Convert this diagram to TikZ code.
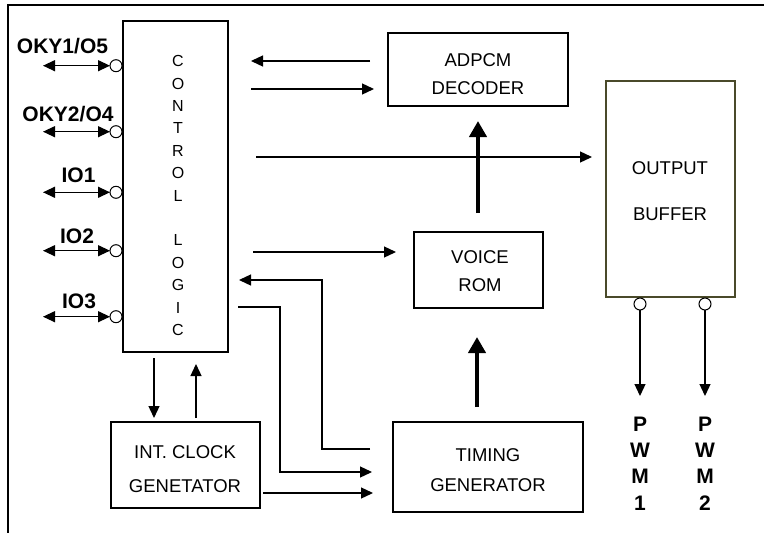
\documentclass[tikz,border=0pt]{standalone}
\usepackage{fontspec}
\setmainfont{Liberation Sans}
\usetikzlibrary{arrows.meta}
\definecolor{obcol}{HTML}{4A4A2A}
\begin{document}
\begin{tikzpicture}[x=1pt,y=-1pt,
 box/.style={draw, line width=1.2pt, inner sep=0pt, outer sep=0pt},
 reg/.style={inner sep=0pt, font=\fontsize{18.5}{20}\selectfont, text height=13.2pt, text depth=0pt},
 bld/.style={inner sep=0pt, font=\fontsize{21}{23}\selectfont\bfseries, text height=15pt, text depth=0pt},
 ltr/.style={inner sep=0pt, font=\fontsize{16}{18}\selectfont, text height=11.5pt, text depth=0pt},
 thinarr/.style={line width=1.3pt, -{Triangle[length=12pt,width=11pt]}},
 dblarr/.style={line width=1.3pt, {Triangle[length=12pt,width=11pt]}-{Triangle[length=12pt,width=11pt]}},
 thickarr/.style={line width=4.5pt, -{Triangle[length=16pt,width=17pt]}},
 pin/.style={circle, draw, line width=1pt, fill=white, minimum size=12pt, inner sep=0pt, outer sep=0pt}]
\useasboundingbox (0,0) rectangle (764,533);
% frame
\draw[line width=2pt] (7.8,533) -- (7.8,5) -- (764,5);
% boxes
\node[box, minimum width=105pt, minimum height=331pt] (cl) at (175.5,186.5) {};
\node[box, minimum width=180pt, minimum height=73pt] (adpcm) at (478,69.5) {};
\node[box, minimum width=129pt, minimum height=76pt] (rom) at (478.5,270) {};
\node[box, minimum width=190pt, minimum height=90pt] (tg) at (488,467) {};
\node[box, minimum width=149pt, minimum height=86pt] (clk) at (185.5,465) {};
\node[box, draw=obcol, minimum width=129pt, minimum height=216pt] (ob) at (670.5,189) {};
% box texts
\node[reg] (t1) at (478,60) {ADPCM};
\node[reg] (t2) at (478,88) {DECODER};
\node[reg] (t3) at (480,257) {VOICE};
\node[reg] (t4) at (480,285) {ROM};
\node[reg] (t5) at (488,455) {TIMING};
\node[reg] (t6) at (488,485) {GENERATOR};
\node[reg] (t7) at (185,452) {INT. CLOCK};
\node[reg] (t8) at (185,486) {GENETATOR};
\node[reg] (t9) at (670,168) {OUTPUT};
\node[reg] (t10) at (670,214) {BUFFER};
\foreach \l/\yy [count=\i] in {C/0,O/1,N/2,T/3,R/4,O/5,L/6,L/8,O/9,G/10,I/11,C/12}
  \node[ltr] (cl\i) at (178,{61+22.4*\yy}) {\l};
% pins on control logic
\foreach \nm/\yy in {p1/65.7,p2/131.7,p3/192.3,p4/250.7,p5/316.7}{
  \node[pin] (\nm) at (116,\yy) {};
  \coordinate (\nm l) at (43,\yy);
  \draw[dblarr] (\nm l) -- (\nm.west);
}
\node[bld] (l1) at (62.5,45.5) {OKY1/O5};
\node[bld] (l2) at (68,113.5) {OKY2/O4};
\node[bld] (l3) at (78.5,174.5) {IO1};
\node[bld] (l4) at (77,235.5) {IO2};
\node[bld] (l5) at (79,300.5) {IO3};
% output pins
\node[pin] (o1) at (640,304) {};
\node[pin] (o2) at (705,304) {};
\coordinate (e1) at (640,396);
\coordinate (e2) at (705,396);
\draw[thinarr] (o1.south) -- (e1);
\draw[thinarr] (o2.south) -- (e2);
\foreach \c/\yy [count=\j] in {P/423.5,W/450,M/476,1/502.5}{
  \node[bld] (pa\j) at (640,\yy) {\c};
  \node[bld] (pb\j) at (705,\yy) {\ifnum\j=4 2\else\c\fi};
}
% connectors
\coordinate (a1) at (370,61);  \coordinate (a2) at (251,61);
\draw[thinarr] (a1) -- (a2);
\coordinate (b1) at (251,89);  \coordinate (b2) at (374,89);
\draw[thinarr] (b1) -- (b2);
\coordinate (c1) at (256,157); \coordinate (c2) at (592,157);
\draw[thinarr] (c1) -- (c2);
\coordinate (d1) at (253,252); \coordinate (d2) at (396,252);
\draw[thinarr] (d1) -- (d2);
\coordinate (f1) at (370,449); \coordinate (f2) at (322,449); \coordinate (f3) at (322,280); \coordinate (f4) at (239,280);
\draw[thinarr] (f1) -- (f2) -- (f3) -- (f4);
\coordinate (g1) at (238,307); \coordinate (g2) at (280,307); \coordinate (g3) at (280,472); \coordinate (g4) at (372,472);
\draw[thinarr] (g1) -- (g2) -- (g3) -- (g4);
\coordinate (h1) at (263,493); \coordinate (h2) at (373,493);
\draw[thinarr] (h1) -- (h2);
\coordinate (i1) at (154,358); \coordinate (i2) at (154,418);
\draw[thinarr] (i1) -- (i2);
\coordinate (j1) at (196,418); \coordinate (j2) at (196,364);
\draw[thinarr] (j1) -- (j2);
\coordinate (k1) at (478,213); \coordinate (k2) at (478,121);
\draw[thickarr] (k1) -- (k2);
\coordinate (m1) at (477,407); \coordinate (m2) at (477,337);
\draw[thickarr] (m1) -- (m2);
\end{tikzpicture}
\end{document}
